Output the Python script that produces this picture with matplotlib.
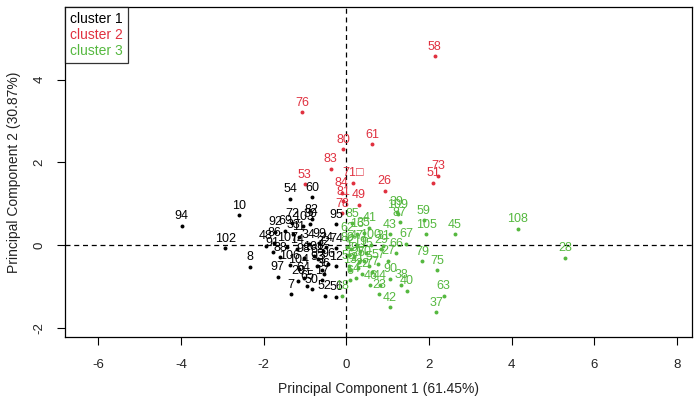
import matplotlib
matplotlib.use("Agg")
import matplotlib.pyplot as plt

plt.rcParams['font.family'] = ['Liberation Sans', 'DejaVu Sans']

# ---------------- data ----------------
c1_labels = [94, 10, 102, 8, 54, 60, 95, 82, 30, 72, 92, 103, 69, 33, 11, 48, 86, 91,
             107, 14, 34, 99, 32, 24, 74, 98, 101, 106, 104, 93, 12, 96, 97, 3, 36, 20,
             64, 65, 50, 17, 7, 52, 56, 68, 88]
c1_x = [-3.98, -2.59, -2.92, -2.33, -1.35, -0.82, -0.25, -0.83, -0.87, -1.30, -1.72, -1.04,
        -1.47, -1.28, -1.14, -1.95, -1.74, -1.78, -1.43, -1.19, -0.91, -0.65, -0.56, -0.49,
        -0.24, -1.03, -0.79, -1.36, -1.15, -0.71, -0.24, -0.44, -1.66, -0.59, -0.54, -1.16,
        -1.03, -0.95, -0.83, -0.59, -1.34, -0.52, -0.24, -0.69, -1.59]
c1_y = [0.47, 0.72, -0.08, -0.53, 1.12, 1.15, 0.50, 0.62, 0.51, 0.53, 0.32, 0.45,
        0.34, 0.26, 0.20, -0.02, 0.05, -0.17, -0.05, -0.10, 0.02, 0.04, -0.15, -0.05,
        -0.08, -0.32, -0.27, -0.49, -0.59, -0.51, -0.52, -0.45, -0.77, -0.60, -0.70, -0.87,
        -0.79, -0.99, -1.07, -0.85, -1.19, -1.23, -1.25, -0.35, -0.30]

c2_labels = [58, 76, 80, 61, 83, 53, 71, 84, 26, 49, 81, 78, 51, 73]
c2_x = [2.14, -1.07, -0.07, 0.63, -0.38, -1.00, 0.16, -0.11, 0.93, 0.30, -0.07, -0.09, 2.11, 2.23]
c2_y = [4.57, 3.21, 2.32, 2.44, 1.84, 1.47, 1.50, 1.26, 1.31, 0.97, 1.06, 0.77, 1.50, 1.67]

c3_labels = [108, 28, 45, 105, 59, 39, 109, 87, 67, 79, 75, 63, 37, 40, 38, 90, 42, 23,
             44, 46, 27, 57, 5, 85, 41, 16, 62, 43, 31, 29, 100, 47, 35, 2, 19, 15, 9,
             25, 55, 13, 22, 1, 4, 6, 21, 66, 70, 77, 89, 18]
c3_x = [4.15, 5.30, 2.62, 1.93, 1.87, 1.22, 1.25, 1.29, 1.45, 1.84, 2.20, 2.36, 2.18, 1.46,
        1.33, 1.07, 1.05, 0.79, 0.81, 0.58, 1.01, 0.77, 0.54, 0.15, 0.56, 0.26, 0.02, 1.05,
        0.89, 0.85, 0.60, 0.25, 0.42, 0.12, 0.33, 0.48, 0.18, 0.30, 0.06, 0.10, 0.38, 0.06,
        0.23, 0.10, 0.28, 1.21, 0.43, 0.63, 0.03, -0.10]
c3_y = [0.39, -0.31, 0.26, 0.26, 0.60, 0.80, 0.74, 0.55, 0.03, -0.39, -0.61, -1.23, -1.63,
        -1.11, -0.96, -0.82, -1.51, -1.19, -0.97, -0.97, -0.38, -0.47, -0.51, 0.52, 0.42,
        0.27, 0.18, 0.26, -0.02, -0.10, 0.00, -0.02, 0.30, -0.10, -0.15, -0.20, -0.30,
        -0.42, -0.50, -0.60, -0.70, -0.25, -0.80, -0.85, -0.55, -0.20, -0.40, -0.65, -0.05,
        -1.23]

legend_labels = ["cluster 1", "cluster 2", "cluster 3"]
colors = ["black", "#E0303F", "#55B83F"]
x_ticks = [-6, -4, -2, 0, 2, 4, 6, 8]
y_ticks = [-2, 0, 2, 4]

# ---------------- plot ----------------
fig = plt.figure(figsize=(6.97, 3.99), dpi=100)
ax = fig.add_axes([0.0933, 0.155, 0.9, 0.828])

ax.axhline(0, color="black", lw=0.9, ls=(0, (4, 3)), zorder=1)
ax.axvline(0, color="black", lw=0.9, ls=(0, (4, 3)), zorder=1)

clusters = [(c1_x, c1_y, c1_labels), (c2_x, c2_y, c2_labels), (c3_x, c3_y, c3_labels)]
for (xs, ys, labs), col in zip(clusters, colors):
    ax.scatter(xs, ys, s=8, color=col, zorder=3, linewidths=0)
    for x, y, lab in zip(xs, ys, labs):
        txt = str(lab) + ("\u25a1" if lab == 71 else "")
        ax.annotate(txt, (x, y), xytext=(0, 2.5), textcoords="offset points",
                    ha="center", va="bottom", fontsize=9, color=col, zorder=4)

ax.set_xlim(-6.8, 8.37)
ax.set_ylim(-2.23, 5.76)
ax.set_xticks(x_ticks)
ax.set_yticks(y_ticks)
ax.set_xticklabels([str(t) for t in x_ticks], fontsize=9.5, color="#222222")
ax.set_yticklabels([str(t) for t in y_ticks], fontsize=9.5, color="#222222",
                   rotation=90, va="center")
ax.tick_params(axis="x", direction="out", length=6, width=0.8, pad=10)
ax.tick_params(axis="y", direction="out", length=6, width=0.8, pad=8)
for sp in ax.spines.values():
    sp.set_linewidth(0.9)
ax.set_xlabel("Principal Component 1 (61.45%)", fontsize=10, color="#222222", labelpad=8)
ax.set_ylabel("Principal Component 2 (30.87%)", fontsize=10, color="#222222", labelpad=9)

leg = ax.legend(handles=[plt.Line2D([], [], lw=0) for _ in legend_labels],
                labels=legend_labels, loc="upper left", frameon=True, fancybox=False,
                handlelength=0, handletextpad=0, borderaxespad=0, borderpad=0.35,
                labelspacing=0.15, fontsize=10)
leg.get_frame().set_edgecolor("black")
leg.get_frame().set_linewidth(0.9)
for t, col in zip(leg.get_texts(), colors):
    t.set_color(col)

fig.savefig("out.png", dpi=100)
